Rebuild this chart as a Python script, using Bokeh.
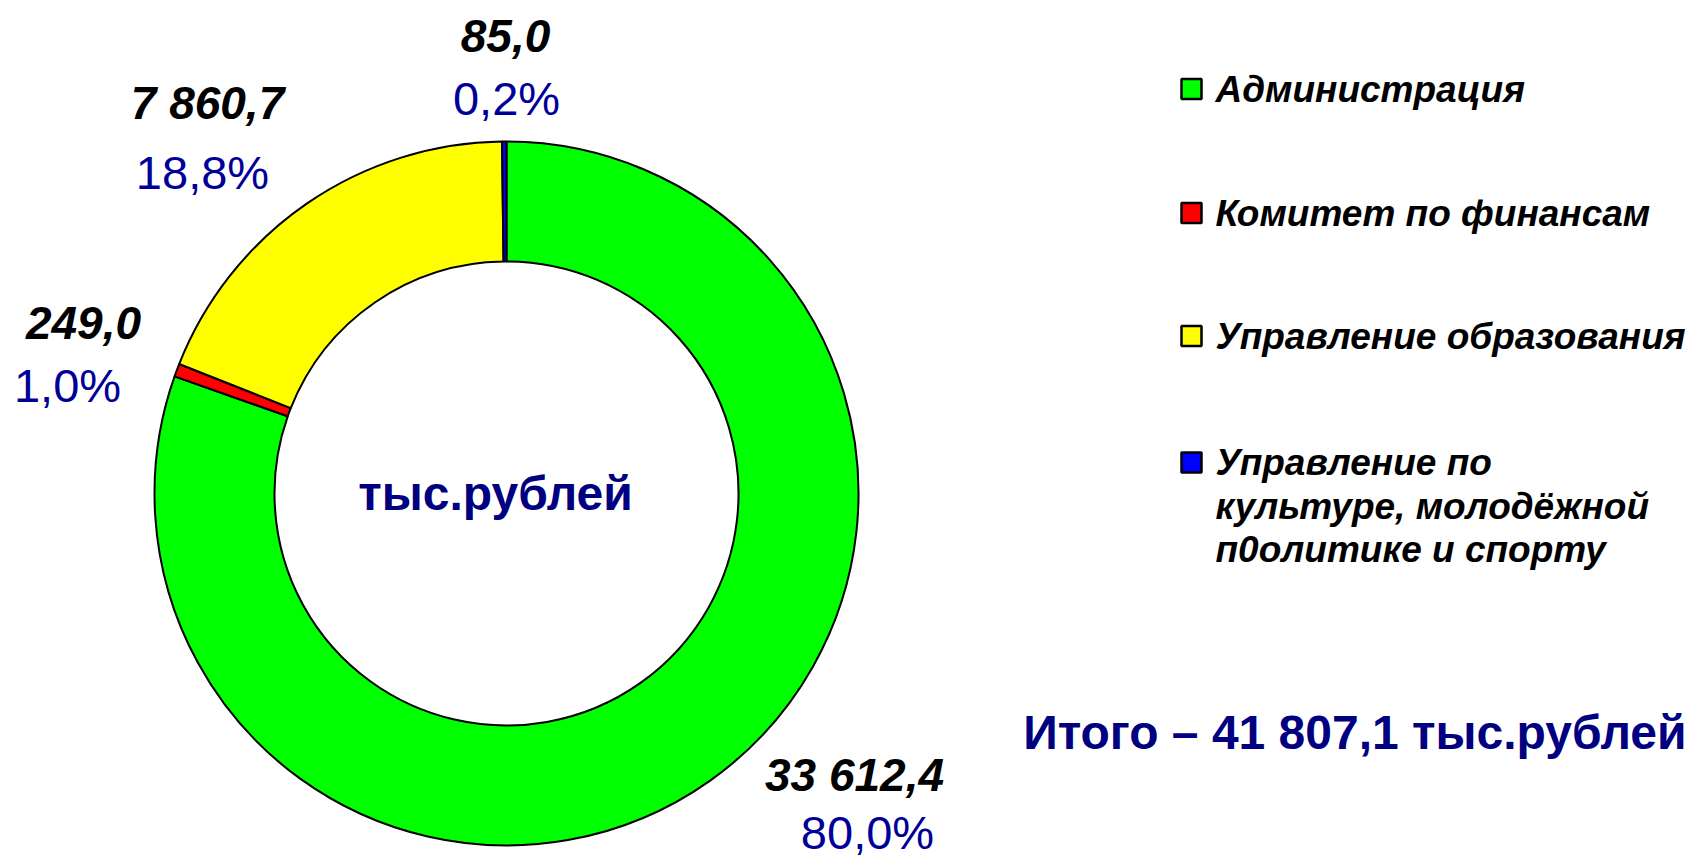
import math
from bokeh.plotting import figure
from bokeh.models import Range1d, ColumnDataSource
from bokeh.core.properties import value
from bokeh.embed import file_html
from bokeh.resources import INLINE

# ---- data ----
categories = ["Администрация", "Комитет по финансам", "Управление образования",
              "Управление по культуре, молодёжной п0олитике и спорту"]
values = [33612.4, 249.0, 7860.7, 85.0]
value_labels = ["33 612,4", "249,0", "7 860,7", "85,0"]
pct_labels = ["80,0%", "1,0%", "18,8%", "0,2%"]
colors = ["#00FF00", "#FF0000", "#FFFF00", "#0000FF"]
legend_lines = [["Администрация"], ["Комитет по финансам"], ["Управление образования"],
                ["Управление по", "культуре, молодёжной", "п0олитике и спорту"]]
total_text = "Итого – 41 807,1 тыс.рублей"
center_text = "тыс.рублей"

W, H = 1692, 859
FONT = "Liberation Sans"
NAVY = "#000080"
PCT = "#000099"

p = figure(width=W, height=H, output_backend="svg", toolbar_location=None,
           x_range=Range1d(0, W), y_range=Range1d(0, H),
           x_axis_location=None, y_axis_location=None, min_border=0)
p.grid.visible = False
p.outline_line_color = None
p.background_fill_color = "white"

# donut wedges, clockwise from 12 o'clock
total = sum(values)
starts, ends = [], []
cum = 0.0
for v in values:
    starts.append(math.pi / 2 - 2 * math.pi * cum / total)
    cum += v
    ends.append(math.pi / 2 - 2 * math.pi * cum / total)

cx, cy = 506, 366
src = ColumnDataSource(dict(x=[cx] * 4, y=[cy] * 4, s=starts, e=ends, c=colors))
p.annular_wedge(x="x", y="y", inner_radius=232, outer_radius=352,
                start_angle="s", end_angle="e", direction="clock",
                fill_color="c", line_color="black", line_width=2, source=src)

# data labels (value + percent)
val_pos = [(854, 85), (83, 537), (207, 757), (505, 824)]
pct_pos = [(867, 27), (67, 474), (202, 687), (506, 761)]
p.text(x=[q[0] for q in val_pos], y=[q[1] for q in val_pos], text=value_labels,
       text_font=value(FONT), text_font_size="46px", text_font_style="bold italic",
       text_color="black", text_align="center", text_baseline="middle")
p.text(x=[q[0] for q in pct_pos], y=[q[1] for q in pct_pos], text=pct_labels,
       text_font=value(FONT), text_font_size="47px", text_font_style="normal",
       text_color=PCT, text_align="center", text_baseline="middle")

# center text
p.text(x=[495], y=[366], text=[center_text], text_font=value(FONT),
       text_font_size="48px", text_font_style="bold", text_color=NAVY,
       text_align="center", text_baseline="middle")

# total
p.text(x=[1686], y=[127], text=[total_text], text_font=value(FONT),
       text_font_size="48px", text_font_style="bold", text_color=NAVY,
       text_align="right", text_baseline="middle")

# legend
leg_y = [770.5, 646.5, 523.5, 397]
p.rect(x=[1191] * 4, y=leg_y, width=20, height=20, fill_color=colors,
       line_color="black", line_width=2.5)
tx, ty, tt = [], [], []
for yy, lines in zip(leg_y, legend_lines):
    for i, ln in enumerate(lines):
        tx.append(1215)
        ty.append(yy - i * 43.7)
        tt.append(ln)
p.text(x=tx, y=ty, text=tt, text_font=value(FONT), text_font_size="37px",
       text_font_style="bold italic", text_color="black",
       text_align="left", text_baseline="middle")

open("out.html", "w").write(file_html(p, INLINE))
